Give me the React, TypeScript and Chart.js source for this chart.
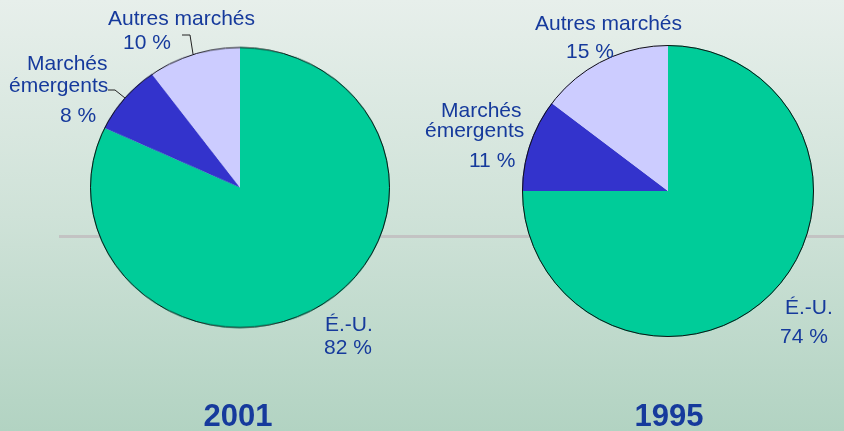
import React, { useEffect, useRef } from "react";
import { Chart, registerables } from "chart.js";

Chart.register(...registerables);

// ---- data ----
const categories = ["É.-U.", "Marchés émergents", "Autres marchés"];
// slice sizes as drawn in the picture
const values2001 = [82, 8, 10];
const values1995 = [75, 10.3, 14.7];
// percentages as printed on the labels
const pct2001 = [82, 8, 10];
const pct1995 = [74, 11, 15];
const years = ["2001", "1995"];
const sliceColors = ["#00CC99", "#3333CC", "#CCCCFF"];

const W = 844;
const H = 431;
const TEXT = "#163a9c";
const FONT = '"Liberation Sans", Arial, sans-serif';

// label layout (page coordinates, left-aligned, alphabetic baseline)
type Lbl = { t: string; x: number; y: number };
const labels2001: Lbl[] = [
  { t: "Autres marchés", x: 108, y: 25 },
  { t: `${pct2001[2]} %`, x: 123, y: 49 },
  { t: "Marchés", x: 27, y: 70 },
  { t: "émergents", x: 9, y: 92 },
  { t: `${pct2001[1]} %`, x: 60, y: 122 },
  { t: "É.-U.", x: 325, y: 331 },
  { t: `${pct2001[0]} %`, x: 324, y: 354 },
];
const labels1995: Lbl[] = [
  { t: "Autres marchés", x: 535, y: 30 },
  { t: `${pct1995[2]} %`, x: 566, y: 58 },
  { t: "Marchés", x: 441, y: 117 },
  { t: "émergents", x: 425, y: 137 },
  { t: `${pct1995[1]} %`, x: 469, y: 167 },
  { t: "É.-U.", x: 785, y: 314 },
  { t: `${pct1995[0]} %`, x: 780, y: 343 },
];
const leaders: number[][][] = [
  [[182, 35], [190, 35], [193, 54]],
  [[108, 90], [115, 90], [125, 98]],
];
const yearPos = [
  { x: 238, y: 426 },
  { x: 669, y: 426 },
];

const outlinePlugin = {
  id: "outline",
  afterDatasetsDraw(chart: any) {
    const arc = chart.getDatasetMeta(0).data[0];
    if (!arc) return;
    const { x, y, outerRadius } = arc.getProps(["x", "y", "outerRadius"], true);
    const ctx = chart.ctx;
    ctx.save();
    ctx.beginPath();
    ctx.arc(x, y, outerRadius - 0.5, 0, Math.PI * 2);
    ctx.strokeStyle = "#111";
    ctx.lineWidth = 1;
    ctx.stroke();
    ctx.restore();
  },
};

const textPlugin = {
  id: "texts",
  afterDraw(chart: any) {
    const ctx = chart.ctx;
    ctx.save();
    ctx.fillStyle = TEXT;
    ctx.font = `21px ${FONT}`;
    ctx.textAlign = "left";
    ctx.textBaseline = "alphabetic";
    [...labels2001, ...labels1995].forEach((l) => ctx.fillText(l.t, l.x, l.y));
    ctx.strokeStyle = "#222";
    ctx.lineWidth = 1;
    leaders.forEach((pts) => {
      ctx.beginPath();
      pts.forEach((p, i) => (i ? ctx.lineTo(p[0], p[1]) : ctx.moveTo(p[0], p[1])));
      ctx.stroke();
    });
    ctx.font = `bold 31px ${FONT}`;
    ctx.textAlign = "center";
    years.forEach((y, i) => ctx.fillText(y, yearPos[i].x, yearPos[i].y));
    ctx.restore();
  },
};

function makeConfig(values: number[], padding: any, plugins: any[]) {
  return {
    type: "pie" as const,
    data: {
      labels: categories,
      datasets: [
        {
          data: values,
          backgroundColor: sliceColors,
          borderWidth: 0,
        },
      ],
    },
    options: {
      responsive: false,
      animation: false as const,
      layout: { padding },
      plugins: {
        legend: { display: false },
        tooltip: { enabled: false },
      },
    },
    plugins,
  };
}

export default function App() {
  const ref1 = useRef<HTMLCanvasElement>(null);
  const ref2 = useRef<HTMLCanvasElement>(null);

  useEffect(() => {
    const c1 = new Chart(
      ref1.current!,
      makeConfig(values2001, { left: 90, right: W - 390, top: 37.5, bottom: H - 337.5 }, [outlinePlugin]) as any
    );
    const c2 = new Chart(
      ref2.current!,
      makeConfig(values1995, { left: 522, right: W - 814, top: 45, bottom: H - 337 }, [outlinePlugin, textPlugin]) as any
    );
    return () => {
      c1.destroy();
      c2.destroy();
    };
  }, []);

  const full: React.CSSProperties = { position: "absolute", left: 0, top: 0, width: W, height: H };

  return (
    <div
      style={{
        position: "fixed",
        left: 0,
        top: 0,
        width: W,
        height: H,
        overflow: "hidden",
        background: "linear-gradient(to bottom, #e7efeb 0%, #cfe2d8 50%, #b2d3c2 100%)",
      }}
    >
      <div style={{ position: "absolute", left: 59, top: 235, width: W - 59, height: 3, background: "#c3c3c3" }} />
      <div style={{ ...full, transform: `scaleY(${140.5 / 150})`, transformOrigin: "0 187.5px" }}>
        <canvas ref={ref1} width={W} height={H} style={{ display: "block" }} />
      </div>
      <div style={full}>
        <canvas ref={ref2} width={W} height={H} style={{ display: "block" }} />
      </div>
    </div>
  );
}
